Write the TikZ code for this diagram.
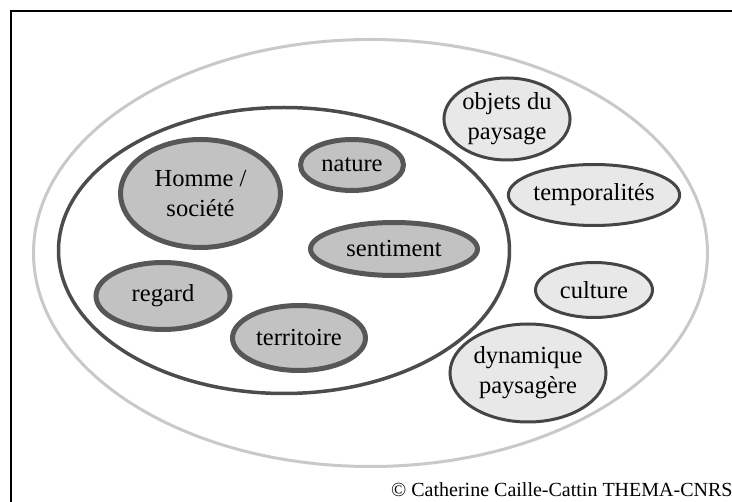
\documentclass[tikz,border=0pt]{standalone}
\usepackage{fontspec}
\setmainfont{Liberation Serif}
\usetikzlibrary{shapes.geometric}

\definecolor{traitnoyau}{gray}{0.34}
\definecolor{fondnoyau}{gray}{0.76}
\definecolor{traitperi}{gray}{0.27}
\definecolor{fondperi}{gray}{0.91}
\definecolor{traitgrand}{gray}{0.30}
\definecolor{traitclair}{gray}{0.79}

\tikzset{
  noyau/.style={ellipse,draw=traitnoyau,fill=fondnoyau,line width=5pt,inner sep=0pt,
    align=center,font=\fontsize{24.5}{30}\selectfont},
  peri/.style={ellipse,draw=traitperi,fill=fondperi,line width=3pt,inner sep=0pt,
    align=center,font=\fontsize{24.5}{30}\selectfont}
}

\begin{document}
\begin{tikzpicture}[x=1pt,y=-1pt]
	\useasboundingbox (0,0) rectangle (732,502);
	% cadre
	\draw[line width=1.5pt] (11,502) -- (11,11) -- (732,11);
	% grandes ellipses
	\draw[traitclair,line width=3pt] (370.5,253) ellipse [x radius=337,y radius=213.5];
	\draw[traitgrand,line width=3.5pt] (284,250.5) ellipse [x radius=225.5,y radius=143];
	% noyau
	\node[noyau,minimum width=160pt,minimum height=108pt] (homme) at (200.5,193.5) {Homme /\\société};
	\node[noyau,minimum width=103pt,minimum height=51pt] (nature) at (352,165) {nature};
	\node[noyau,minimum width=167pt,minimum height=53pt] (sentiment) at (394,249) {sentiment};
	\node[noyau,minimum width=134pt,minimum height=67pt] (regard) at (163,296) {regard};
	\node[noyau,minimum width=133pt,minimum height=65pt] (territoire) at (299,338) {territoire};
	% peripherie
	\node[peri,minimum width=124pt,minimum height=82pt] (objets) at (507,119) {objets du\\paysage};
	\node[peri,minimum width=167pt,minimum height=61pt] (temporalites) at (594,195) {temporalités};
	\node[peri,minimum width=117pt,minimum height=55pt] (culture) at (594,290) {culture};
	\node[peri,minimum width=156pt,minimum height=98pt] (dynamique) at (528,373) {dynamique\\paysagère};
	% source
	\node[anchor=base west,inner sep=0pt,font=\fontsize{20}{24}\selectfont] (source) at (391,497) {© Catherine Caille-Cattin THEMA-CNRS};
\end{tikzpicture}
\end{document}
